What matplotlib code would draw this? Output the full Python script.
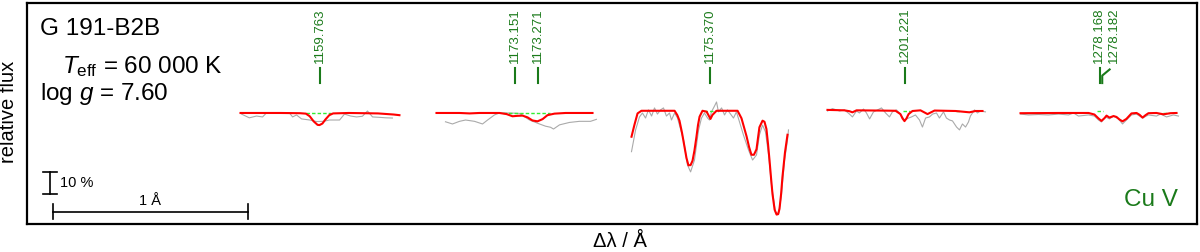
import numpy as np
import matplotlib
matplotlib.use('Agg')
import matplotlib.pyplot as plt

plt.rcParams['font.family'] = ['Liberation Sans', 'DejaVu Sans']
plt.rcParams['mathtext.fontset'] = 'custom'
plt.rcParams['mathtext.rm'] = 'Liberation Sans'
plt.rcParams['mathtext.it'] = 'Liberation Sans:italic'

# reference wavelength of each panel (A); panels are placed 1 A apart
panel_ref = [1159.763, 1173.151, 1175.370, 1201.221, 1278.168]

# identified Cu V lines: (panel, wavelength, label shift in A)
line_panel = [0, 1, 1, 2, 3, 4, 4]
line_wave = [1159.763, 1173.151, 1173.271, 1175.370, 1201.221, 1278.168, 1278.182]
line_shift = [0, 0, 0, 0, 0, -0.004, 0.058]

# observed spectrum (grey), dlambda relative to panel_ref, relative flux
obs_dl = [
    [-0.40, -0.36, -0.323, -0.292, -0.272, -0.23, -0.19, -0.154, -0.138, -0.118, -0.092,
     -0.05, -0.015, 0.02, 0.051, 0.103, 0.128, 0.16, 0.19, 0.22, 0.246, 0.272, 0.31, 0.34, 0.374],
    [-0.354, -0.318, -0.282, -0.251, -0.205, -0.164, -0.138, -0.103, -0.077, -0.026, 0.026,
     0.077, 0.128, 0.159, 0.185, 0.20, 0.231, 0.282, 0.333, 0.39, 0.42],
    [-0.40, -0.379, -0.359, -0.344, -0.328, -0.313, -0.297, -0.282, -0.267, -0.251, -0.236,
     -0.221, -0.205, -0.195, -0.179, -0.164, -0.133, -0.113, -0.097, -0.077, -0.056, -0.041,
     -0.026, -0.010, 0.0, 0.010, 0.026, 0.036, 0.046, 0.062, 0.077, 0.092, 0.108, 0.123,
     0.138, 0.154, 0.174, 0.2, 0.221, 0.241, 0.256, 0.272, 0.287, 0.303, 0.318, 0.338,
     0.354, 0.369, 0.385, 0.40, 0.405],
    [-0.395, -0.369, -0.333, -0.308, -0.282, -0.267, -0.246, -0.231, -0.21, -0.195, -0.179,
     -0.159, -0.138, -0.118, -0.097, -0.077, -0.062, -0.041, -0.021, 0.0, 0.021, 0.036,
     0.056, 0.077, 0.092, 0.108, 0.128, 0.144, 0.164, 0.179, 0.2, 0.215, 0.231, 0.246,
     0.267, 0.282, 0.297, 0.313, 0.328, 0.338, 0.359, 0.374, 0.39, 0.415],
    [-0.405, -0.364, -0.313, -0.262, -0.21, -0.159, -0.133, -0.108, -0.056, -0.026, -0.005,
     0.010, 0.031, 0.051, 0.072, 0.097, 0.118, 0.138, 0.164, 0.19, 0.221, 0.251, 0.292,
     0.313, 0.344, 0.379, 0.405],
]
obs_fl = [
    [0.995, 0.978, 0.986, 0.982, 1.000, 0.998, 1.000, 1.000, 0.982, 0.991, 0.973,
     0.968, 0.961, 0.962, 0.968, 0.968, 0.995, 0.986, 0.982, 0.985, 1.009, 0.982, 0.980, 0.978, 0.977],
    [0.960, 0.950, 0.962, 0.968, 0.962, 0.950, 0.968, 0.991, 1.000, 1.000, 0.998,
     0.968, 0.950, 0.940, 0.935, 0.927, 0.946, 0.957, 0.962, 0.962, 0.971],
    [0.824, 0.923, 0.982, 1.000, 0.977, 1.014, 0.986, 1.023, 0.995, 1.014, 1.023,
     0.986, 1.000, 0.968, 1.000, 0.977, 0.877, 0.764, 0.732, 0.786, 0.923, 0.977,
     1.000, 0.977, 0.968, 1.005, 1.032, 1.050, 1.005, 1.023, 0.991, 1.014, 0.995, 0.977,
     1.005, 0.959, 0.900, 0.832, 0.786, 0.809, 0.900, 0.945, 0.914, 0.809, 0.673, 0.550,
     0.541, 0.627, 0.786, 0.877, 0.923],
    [1.009, 1.020, 1.009, 1.014, 0.995, 0.982, 1.009, 1.000, 1.018, 1.000, 0.973,
     1.005, 1.014, 1.023, 1.000, 0.982, 1.005, 1.014, 0.995, 0.968, 0.977, 0.982,
     0.991, 0.968, 0.936, 0.977, 0.982, 0.995, 1.000, 0.977, 1.005, 0.977, 0.968, 0.964,
     0.936, 0.923, 0.950, 0.936, 0.959, 0.986, 1.014, 1.000, 1.009, 1.005],
    [0.995, 0.991, 0.993, 0.991, 0.995, 0.991, 1.000, 0.986, 0.991, 0.986, 0.968,
     0.959, 0.982, 0.973, 0.986, 0.973, 0.950, 0.968, 0.991, 0.995, 0.977, 0.991, 0.986,
     0.995, 0.982, 0.991, 0.986],
]

# synthetic spectrum (red)
mod_dl = [
    [-0.405, -0.20, -0.10, -0.07, -0.05, -0.03, -0.01, 0.0, 0.015, 0.03, 0.05, 0.07,
     0.15, 0.30, 0.38, 0.41],
    [-0.40, -0.282, -0.23, -0.18, -0.077, -0.041, -0.010, 0.015, 0.041, 0.067, 0.092,
     0.118, 0.144, 0.169, 0.205, 0.262, 0.40],
    [-0.40, -0.385, -0.369, -0.349, -0.256, -0.179, -0.165, -0.154, -0.141, -0.128, -0.118,
     -0.108, -0.097, -0.087, -0.077, -0.067, -0.059, -0.051, -0.036, -0.015, 0.005, 0.015,
     0.036, 0.144, 0.164, 0.177, 0.19, 0.203, 0.215, 0.228, 0.241, 0.256, 0.272, 0.282,
     0.292, 0.300, 0.308, 0.316, 0.323, 0.334, 0.344, 0.352, 0.359, 0.367, 0.374, 0.387, 0.40],
    [-0.395, -0.308, -0.282, -0.267, -0.246, -0.128, -0.046, -0.021, -0.010, 0.0, 0.010,
     0.021, 0.041, 0.082, 0.118, 0.154, 0.262, 0.333, 0.364, 0.40],
    [-0.405, -0.21, -0.056, -0.026, -0.005, 0.010, 0.026, 0.036, 0.051, 0.072, 0.087,
     0.103, 0.118, 0.138, 0.164, 0.19, 0.205, 0.221, 0.236, 0.251, 0.292, 0.328, 0.364, 0.395],
]
mod_fl = [
    [1.000, 1.000, 0.999, 0.997, 0.985, 0.962, 0.946, 0.945, 0.952, 0.970, 0.990, 0.998,
     1.000, 0.998, 0.993, 0.990],
    [1.000, 1.000, 0.998, 1.000, 1.000, 0.995, 0.985, 0.987, 0.988, 0.980, 0.966,
     0.962, 0.972, 0.990, 0.997, 1.000, 1.000],
    [0.892, 0.946, 0.998, 1.010, 1.010, 1.010, 0.990, 0.965, 0.910, 0.845, 0.795,
     0.762, 0.763, 0.783, 0.830, 0.891, 0.945, 0.983, 1.010, 1.006, 0.973, 0.991,
     1.010, 1.010, 0.976, 0.935, 0.894, 0.845, 0.810, 0.810, 0.835, 0.935, 0.965, 0.960,
     0.927, 0.860, 0.783, 0.700, 0.632, 0.560, 0.538, 0.540, 0.564, 0.630, 0.708, 0.820, 0.901],
    [1.014, 1.012, 1.008, 1.003, 1.012, 1.011, 1.010, 0.995, 0.975, 0.963, 0.975,
     0.995, 1.009, 1.012, 0.995, 1.011, 1.009, 1.003, 1.009, 1.009],
    [0.999, 1.000, 1.000, 0.993, 0.975, 0.964, 0.977, 0.988, 0.979, 0.986, 0.982,
     0.970, 0.962, 0.973, 0.998, 1.000, 0.992, 0.979, 0.990, 0.999, 1.000, 0.994, 0.999, 1.000],
]

# model without the Cu V lines (green dashed): (panel, dl start, dl end, flux)
nocu_panel = [0, 1, 2, 3, 3, 4, 4]
nocu_start = [-0.07, -0.06, -0.026, -0.010, 0.262, -0.015, 0.328]
nocu_end = [0.06, 0.18, 0.026, 0.026, 0.287, 0.020, 0.354]
nocu_flux = [1.0, 1.0, 1.01, 1.01, 1.01, 1.01, 1.0]

red = '#ff0000'
grey = '#aaaaaa'
dgreen = '#1a7a1a'
lgreen = '#33ee33'

fig = plt.figure(figsize=(12, 2.52), dpi=100)
ax = fig.add_axes([0.0225, 0.111, 0.975, 0.877])

for i in range(len(panel_ref)):
    ax.plot(np.array(obs_dl[i]) + i, obs_fl[i], color=grey, lw=0.8, zorder=2)
for k in range(len(nocu_panel)):
    p = nocu_panel[k]
    ax.plot([nocu_start[k] + p, nocu_end[k] + p], [nocu_flux[k]] * 2, color=lgreen,
            lw=1.0, ls=(0, (2.5, 1.5)), zorder=3)
for i in range(len(panel_ref)):
    ax.plot(np.array(mod_dl[i]) + i, mod_fl[i], color=red, lw=1.5, zorder=4)

# line identifications
for k in range(len(line_wave)):
    x = line_panel[k] + line_wave[k] - panel_ref[line_panel[k]]
    xl = x + line_shift[k]
    if k < len(line_wave) - 1:
        ax.plot([x, x], [1.136, 1.205], color=dgreen, lw=1.5, zorder=5)
    else:
        ax.plot([x, x, xl - 0.02], [1.136, 1.17, 1.198], color=dgreen, lw=1.5, zorder=5)
    ax.text(xl, 1.228, '%.3f' % line_wave[k], rotation=90, ha='center', va='bottom',
            color=dgreen, fontsize=9.5)

# scale bars
ax.plot([-1.367, -0.367], [0.55, 0.55], color='black', lw=1.2)
ax.plot([-1.367, -1.367], [0.52, 0.585], color='black', lw=1.2)
ax.plot([-0.367, -0.367], [0.52, 0.585], color='black', lw=1.2)
ax.text(-0.867, 0.567, '1 Å', ha='center', va='bottom', fontsize=10.5)
ax.plot([-1.382, -1.382], [0.632, 0.732], color='black', lw=1.2)
ax.plot([-1.418, -1.346], [0.732, 0.732], color='black', lw=1.2)
ax.plot([-1.418, -1.346], [0.632, 0.632], color='black', lw=1.2)
ax.text(-1.33, 0.682, '10 %', ha='left', va='center', fontsize=10.5)

ax.text(0.011, 0.855, 'G 191-B2B', transform=ax.transAxes, fontsize=17.5, va='baseline')
ax.text(0.03, 0.683, r'$T_\mathrm{eff}$ = 60 000 K', transform=ax.transAxes,
        fontsize=17.5, va='baseline')
ax.text(0.011, 0.561, r'log $g$ = 7.60', transform=ax.transAxes, fontsize=17.5,
        va='baseline')
ax.text(0.984, 0.08, 'Cu V', transform=ax.transAxes, fontsize=17.5, color=dgreen,
        ha='right', va='baseline')

ax.set_xlim(-1.5, 4.5)
ax.set_ylim(0.495, 1.5)
ax.set_xticks([])
ax.set_yticks([])
for s in ax.spines.values():
    s.set_linewidth(1.6)

fig.text(0.0068, 0.558, 'relative flux', rotation=90, ha='center', va='center', fontsize=14.5)
fig.text(0.517, 0.018, 'Δλ / Å', ha='center', va='baseline', fontsize=14.5)

fig.savefig('out.png', dpi=100)
